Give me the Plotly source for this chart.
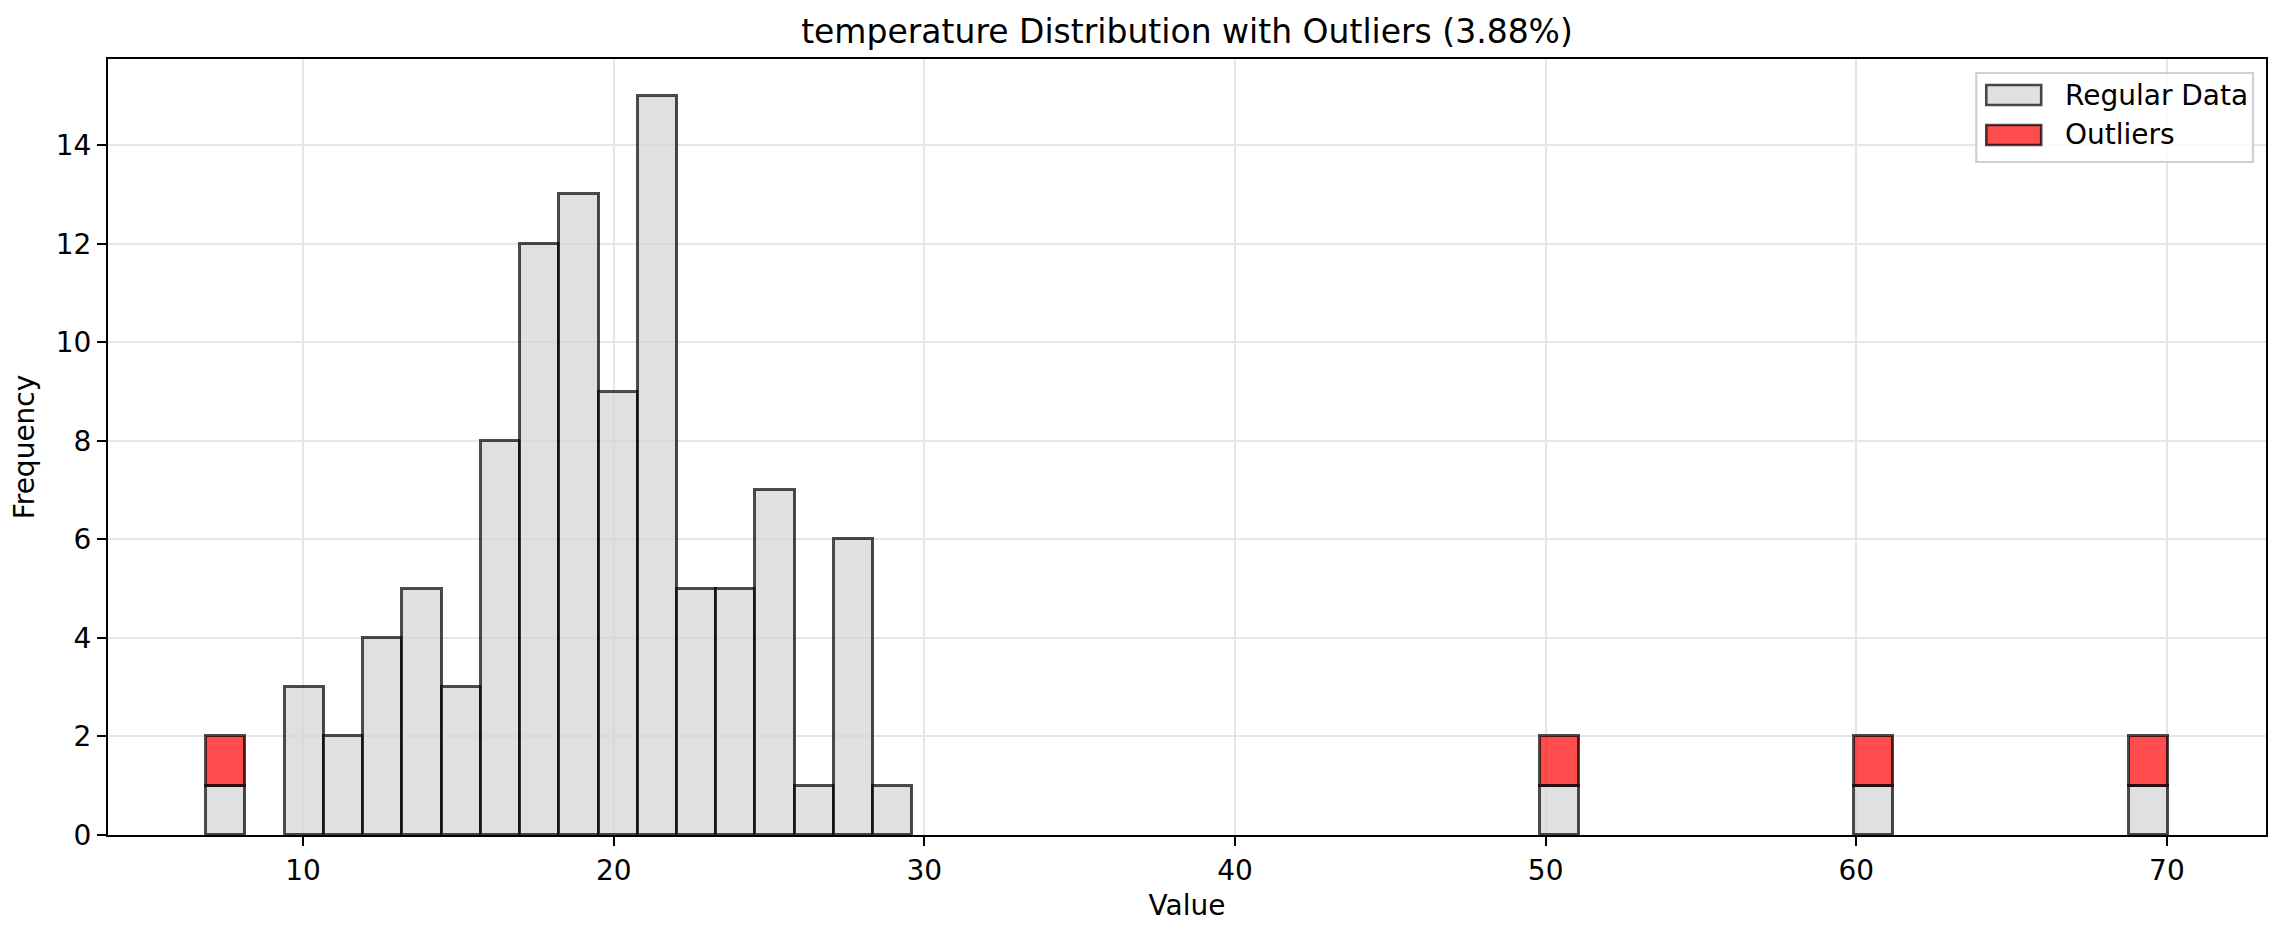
import numpy as np
import plotly.graph_objects as go

# histogram: 50 equal bins between the data min and max
bin_lo = 6.88
bin_hi = 70.03
n_bins = 50

regular_counts = [1, 0, 3, 2, 4, 5, 3, 8, 12, 13,
                  9, 15, 5, 5, 7, 1, 6, 1, 0, 0,
                  0, 0, 0, 0, 0, 0, 0, 0, 0, 0,
                  0, 0, 0, 0, 1, 0, 0, 0, 0, 0,
                  0, 0, 1, 0, 0, 0, 0, 0, 0, 1]
outlier_counts = [1, 0, 0, 0, 0, 0, 0, 0, 0, 0,
                  0, 0, 0, 0, 0, 0, 0, 0, 0, 0,
                  0, 0, 0, 0, 0, 0, 0, 0, 0, 0,
                  0, 0, 0, 0, 1, 0, 0, 0, 0, 0,
                  0, 0, 1, 0, 0, 0, 0, 0, 0, 1]

series_names = ["Regular Data", "Outliers"]
x_ticks = [10, 20, 30, 40, 50, 60, 70]
y_ticks = [0, 2, 4, 6, 8, 10, 12, 14]

edges = np.linspace(bin_lo, bin_hi, n_bins + 1)
centers = (edges[:-1] + edges[1:]) / 2
bw = edges[1] - edges[0]
pct = 100 * sum(outlier_counts) / sum(regular_counts)

# the page body has an 8px margin, so the figure is made 16px smaller
W, H = 2270, 923
L, T, R, B = 100, 51, 10, 96
pw, ph = W - L - R, H - T - B

gray = "rgba(211,211,211,0.7)"
red = "rgba(255,0,0,0.7)"
edge = "rgba(0,0,0,0.7)"


def nz(vals):
    return [v if v else None for v in vals]


def px(x):
    # page pixel -> paper x
    return (x - 8 - L) / pw


def py(y):
    # page pixel -> paper y
    return 1 - (y - 8 - T) / ph


font = "DejaVu Sans"
fig = go.Figure()
fig.add_trace(go.Bar(x=centers, y=nz(regular_counts), width=bw, name=series_names[0],
                     marker=dict(color=gray, line=dict(color=edge, width=2.6))))
fig.add_trace(go.Bar(x=centers, y=nz(outlier_counts), width=bw, name=series_names[1],
                     marker=dict(color=red, line=dict(color=edge, width=2.6))))

# legend drawn by hand so the patches match matplotlib's size
shapes = [dict(type="rect", xref="paper", yref="paper",
               x0=px(1978), x1=px(2255), y0=py(162), y1=py(73),
               fillcolor="rgba(255,255,255,0.8)", line=dict(color="#d0d0d0", width=2.2))]
annos = []
for i, (nm, col) in enumerate(zip(series_names, [gray, red])):
    yc = 95 + 40 * i
    shapes.append(dict(type="rect", xref="paper", yref="paper",
                       x0=px(1988), x1=px(2043), y0=py(yc + 10), y1=py(yc - 10),
                       fillcolor=col, line=dict(color=edge, width=2.6)))
    annos.append(dict(text=nm, xref="paper", yref="paper", x=px(2065), y=py(yc),
                      xanchor="left", yanchor="middle", showarrow=False,
                      font=dict(family=font, size=28, color="black")))

axis_common = dict(showline=True, linecolor="black", linewidth=2.2, mirror=True,
                   ticks="outside", ticklen=9, tickwidth=2.2, tickcolor="black",
                   showgrid=True, gridcolor="#e6e6e6", gridwidth=2.2, zeroline=False,
                   tickfont=dict(family=font, size=28, color="black"))

fig.update_layout(
    width=W, height=H,
    barmode="stack", bargap=0, showlegend=False,
    paper_bgcolor="white", plot_bgcolor="white",
    margin=dict(l=L, r=R, t=T, b=B),
    font=dict(family=font, size=28, color="black"),
    title=dict(text=f"temperature Distribution with Outliers ({pct:.2f}%)",
               x=0.5, xref="paper", xanchor="center",
               y=1 - 23 / H, yref="container", yanchor="middle",
               font=dict(family=font, size=33, color="black")),
    xaxis=dict(range=[3.72, 73.19], tickvals=x_ticks,
               title=dict(text="Value", font=dict(family=font, size=28), standoff=10),
               **axis_common),
    yaxis=dict(range=[0, 15.75], tickvals=y_ticks,
               title=dict(text="Frequency", font=dict(family=font, size=28), standoff=14),
               **axis_common),
    shapes=shapes,
    annotations=annos,
)

fig.write_html("out.html")
